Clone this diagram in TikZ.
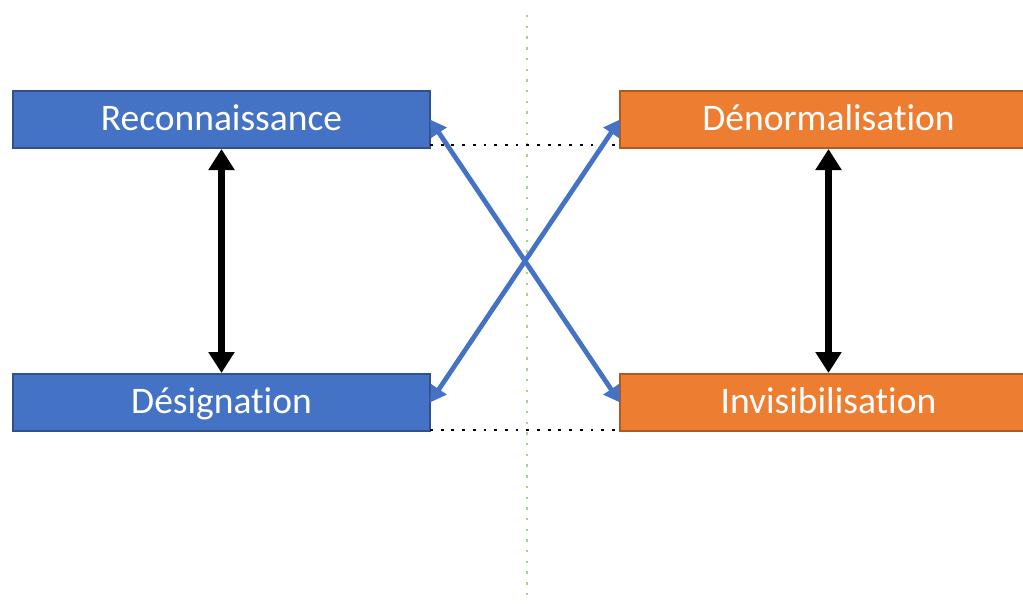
\documentclass[tikz,border=0pt]{standalone}
\usepackage{fontspec}
\setmainfont{Carlito}[Ligatures={NoCommon}]
\usetikzlibrary{arrows.meta}
\definecolor{accblue}{HTML}{4472C4}
\definecolor{accblueline}{HTML}{2F528F}
\definecolor{accorange}{HTML}{ED7D31}
\definecolor{accorangeline}{HTML}{AE5A21}
\definecolor{guide}{HTML}{A9D18E}
\tikzset{
  x=1pt, y=-1pt,
  box/.style={minimum width=417pt, minimum height=57pt, inner sep=0pt, outer sep=0pt,
    line width=1.8pt, text=white, font=\fontsize{37.5}{44}\selectfont,
    text height=26pt, text depth=4pt},
  bluebox/.style={box, fill=accblue, draw=accblueline},
  orangebox/.style={box, fill=accorange, draw=accorangeline},
  vlink/.style={line width=7.5pt, black, {Triangle[length=21pt,width=25pt]}-{Triangle[length=21pt,width=25pt]}, shorten <=1pt, shorten >=1pt},
  xlink/.style={line width=4.8pt, accblue, {Triangle[length=16pt,width=18pt]}-{Triangle[length=16pt,width=18pt]}},
  dotline/.style={line width=2.8pt, black, dash pattern=on 2.8pt off 7.9pt},
  guideline/.style={line width=2.4pt, guide, dash pattern=on 2.4pt off 8.3pt}
}
\begin{document}
\begin{tikzpicture}
\useasboundingbox (0,0) rectangle (1023,603);
\clip (0,0) rectangle (1023,603);

% vertical guide
\coordinate (gtop) at (527,15);
\coordinate (gbot) at (527,603);
\draw[guideline] (gtop) -- (gbot);

% boxes
\node[bluebox]   (reco)  at (221.5,119.5) {Reconnaissance};
\node[bluebox]   (desig) at (221.5,402.5) {Désignation};
\node[orangebox] (deno)  at (828.5,119.5) {Dénormalisation};
\node[orangebox] (invis) at (828.5,402.5) {Invisibilisation};

% dotted connections between the columns
\draw[dotline] ([yshift=3pt]reco.south east) -- ([yshift=3pt]deno.south west);
\draw[dotline] ([yshift=1pt]desig.south east) -- ([yshift=1pt]invis.south west);

% vertical links
\draw[vlink] (reco.south) -- (desig.north);
\draw[vlink] (deno.south) -- (invis.north);

% crossing links
\draw[xlink] (desig.east) -- (deno.west);
\draw[xlink] (reco.east) -- (invis.west);
\end{tikzpicture}
\end{document}
